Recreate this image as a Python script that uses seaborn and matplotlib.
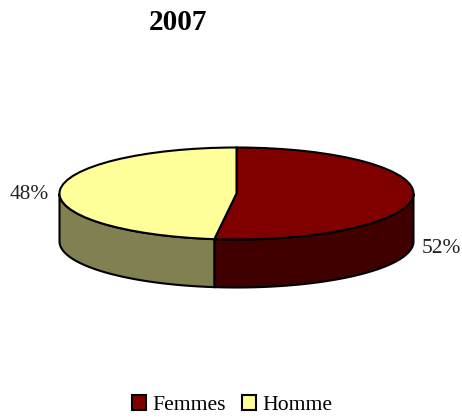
import numpy as np
import seaborn as sns
import matplotlib
matplotlib.use('Agg')
import matplotlib.pyplot as plt
from matplotlib.patches import Patch

labels = ['Femmes', 'Homme']
values = [52, 48]
pct_labels = ['52%', '48%']
top_colors = ['#800000', '#FFFF99']
side_colors = ['#400000', '#808050']
title = '2007'

sns.set_theme(style='white')
plt.rcParams['font.family'] = ['Liberation Serif', 'DejaVu Serif']

W, H = 462, 418
fig = plt.figure(figsize=(W / 100, H / 100), dpi=100)
ax = fig.add_axes([0, 0, 1, 1])

# pie is squashed through the axis limits: 1 unit = 177 px in x, 46 px in y
cx, cy, rx, ry, depth = 236.5, 193.5, 177, 46, 48 / 46

# angles of slices, clockwise from 12 o'clock
edges = 90 - np.cumsum([0] + values) / sum(values) * 360

# side walls, only the part facing the viewer (angles between 0 and -180)
for i in range(len(values)):
    a0 = min(edges[i], 0)
    a1 = max(edges[i + 1], -180)
    th = np.radians(np.linspace(a0, a1, 100))
    xs = np.cos(th)
    ys = np.sin(th)
    ax.fill(np.r_[xs, xs[::-1]], np.r_[ys, ys[::-1] - depth],
            fc=side_colors[i], ec='black', lw=1.5, zorder=1)

wedges, _ = ax.pie(values, colors=top_colors, startangle=90, counterclock=False,
                   wedgeprops={'ec': 'black', 'lw': 1.5}, frame=True)
for w in wedges:
    w.set_zorder(2)
ax.set_xlim(-cx / rx, (W - cx) / rx)
ax.set_ylim(-(H - cy) / ry, cy / ry)
ax.set_aspect('auto')
ax.axis('off')

ax.text((441.5 - cx) / rx, (cy - 248.5) / ry, pct_labels[0], fontsize=15.4,
        color='#222222', ha='center', va='center')
ax.text((29 - cx) / rx, (cy - 194.5) / ry, pct_labels[1], fontsize=15.4,
        color='#222222', ha='center', va='center')

fig.text(178 / W, 1 - 22 / H, title, fontsize=21, fontweight='bold',
         color='black', ha='center', va='center')

handles = [Patch(fc=c, ec='black', lw=1.5) for c in top_colors]
fig.legend(handles, labels, loc='center', bbox_to_anchor=(232 / W, 1 - 405 / H),
           ncol=2, frameon=False, fontsize=15.6, labelcolor='black', borderpad=0,
           handlelength=0.65, handleheight=0.7, handletextpad=0.3, columnspacing=0.75)

fig.savefig('out.png', dpi=100)
